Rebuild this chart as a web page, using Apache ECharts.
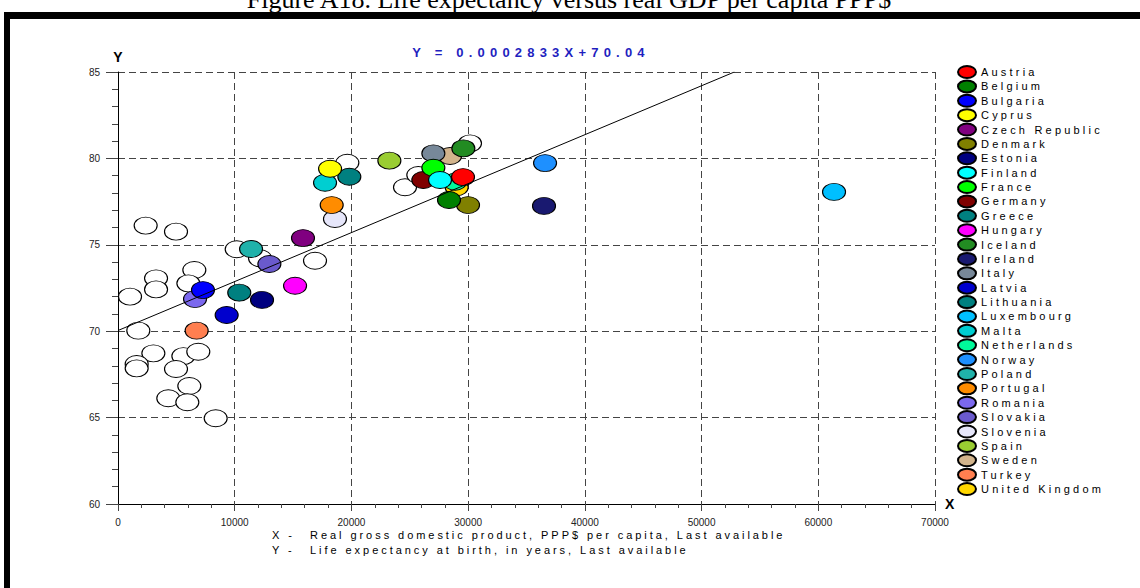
<!DOCTYPE html>
<html>
<head>
<meta charset="utf-8">
<script src="https://cdn.jsdelivr.net/npm/echarts@6/dist/echarts.min.js"></script>
<style>
html,body{margin:0;padding:0;background:#fff;}
#chart{width:1140px;height:588px;}
</style>
</head>
<body>
<div id="chart"></div>
<script>
const countries = ['Austria','Belgium','Bulgaria','Cyprus','Czech Republic','Denmark','Estonia','Finland','France','Germany','Greece','Hungary','Iceland','Ireland','Italy','Latvia','Lithuania','Luxembourg','Malta','Netherlands','Norway','Poland','Portugal','Romania','Slovakia','Slovenia','Spain','Sweden','Turkey','United Kingdom'];
const gdp = [29560,28360,7280,18170,15850,29990,12340,27590,27020,26160,19820,15170,29590,36500,27020,9310,10390,61350,17740,28880,36590,11400,18310,6600,12970,18590,23250,28450,6740,29020];
const life = [78.92,77.59,72.38,79.40,75.39,77.30,71.81,78.75,79.46,78.75,78.94,72.63,80.58,77.25,80.29,70.94,72.23,78.06,78.59,78.65,79.73,74.76,77.30,71.86,73.89,76.49,79.87,80.14,70.03,78.33];
const colors = ['#FF0000','#008000','#0000FF','#FFFF00','#800080','#808000','#000080','#00FFFF','#00FF00','#800000','#008080','#FF00FF','#228B22','#191970','#778899','#0000CD','#008080','#00BFFF','#00CED1','#00FA9A','#1E90FF','#20B2AA','#FF8C00','#7B68EE','#6A5ACD','#E6E6FA','#9ACD32','#D2B48C','#FF7F50','#FFD700'];
const otherGdp = [2370,4970,3260,3260,1030,6540,6030,1740,3030,1600,1600,5600,6880,4970,6110,4310,5940,8370,10170,12170,16880,19650,24590,25730,30160];
const otherLife = [76.11,75.76,73.06,72.42,72.00,73.54,72.77,70.03,68.72,68.10,67.85,68.56,68.81,67.81,66.83,66.12,65.89,64.96,74.74,74.22,74.08,79.75,78.33,79.04,80.87];
const slope = 0.0002833, intercept = 70.04;
const equationText = 'Y = 0.0002833X+70.04';
const titleText = 'Figure A18. Life expectancy versus real GDP per capita PPP$';
const noteX = 'Real gross domestic product, PPP$ per capita, Last available';
const noteY = 'Life expectancy at birth, in years, Last available';
const xMin = 0, xMax = 70000, xStep = 10000;
const yMin = 60, yMax = 85, yStep = 5;

const ELL = 'path://M1,0A1,1,0,1,1,-1,0A1,1,0,1,1,1,0Z';
const ELL_LEG = 'path://M1.5,0A1.5,1,0,1,1,-1.5,0A1.5,1,0,1,1,1.5,0Z';
const chart = echarts.init(document.getElementById('chart'), null, {renderer:'svg'});

const series = [];
series.push({
  type:'scatter', name:'others', symbol:ELL, symbolSize:[23,17],
  data: otherGdp.map((g,i)=>[g, otherLife[i]]),
  itemStyle:{color:'#fff', borderColor:'#000', borderWidth:1, opacity:1},
  silent:true
});
for (let i = countries.length-1; i >= 0; i--) {
  series.push({
    type:'scatter', name:countries[i], symbol:ELL, symbolSize:[23,17],
    data:[[gdp[i], life[i]]],
    itemStyle:{color:colors[i], borderColor:'#000', borderWidth:1, opacity:1},
    silent:true
  });
}
const xEnd = (yMax - intercept)/slope;
series.push({
  type:'line', name:'fit', data:[[0, intercept],[xEnd, yMax]],
  symbol:'none', lineStyle:{color:'#000', width:1}, silent:true, z:5
});

const axisFont = {fontFamily:'Liberation Sans', fontSize:10, color:'#222'};
chart.setOption({
  animation:false,
  backgroundColor:'#fff',
  grid:{left:118, right:205, top:72, bottom:84, containLabel:false},
  xAxis:{
    type:'value', min:xMin, max:xMax, interval:xStep,
    name:'X', nameLocation:'end', nameGap:10,
    nameTextStyle:{fontFamily:'Liberation Sans', fontSize:14, fontWeight:'bold', color:'#000', verticalAlign:'middle'},
    axisLine:{show:true, lineStyle:{color:'#000', width:1}},
    axisTick:{show:true, length:7, lineStyle:{color:'#444'}},
    minorTick:{show:true, splitNumber:5, length:4, lineStyle:{color:'#444'}},
    axisLabel:Object.assign({margin:13, formatter:v=>String(v)}, axisFont),
    splitLine:{show:true, lineStyle:{color:'#444', type:[7,4], width:1}}
  },
  yAxis:{
    type:'value', min:yMin, max:yMax, interval:yStep,
    name:'Y', nameLocation:'end', nameGap:8,
    nameTextStyle:{fontFamily:'Liberation Sans', fontSize:14, fontWeight:'bold', color:'#000', align:'center'},
    axisLine:{show:true, lineStyle:{color:'#000', width:1}},
    axisTick:{show:true, length:12, lineStyle:{color:'#444'}},
    minorTick:{show:true, splitNumber:5, length:6, lineStyle:{color:'#444'}},
    axisLabel:Object.assign({margin:18, formatter:v=>String(v)}, axisFont),
    splitLine:{show:true, lineStyle:{color:'#444', type:[7,4], width:1}}
  },
  legend:{
    data:countries, orient:'vertical', left:957, top:65, padding:0,
    itemWidth:18, itemHeight:12, itemGap:0.38, selectedMode:false,
    icon:ELL_LEG,
    textStyle:{fontFamily:'Liberation Sans', fontSize:11, color:'#000'}
  },
  graphic:[
    {type:'rect', shape:{x:4, y:12, width:1136, height:7}, style:{fill:'#000'}, silent:true},
    {type:'rect', shape:{x:4, y:12, width:6, height:576}, style:{fill:'#000'}, silent:true},
    {type:'text', x:569, y:-1, style:{text:titleText, fontFamily:'Liberation Serif', fontSize:26, fill:'#000', align:'center', verticalAlign:'middle'}, silent:true},
    {type:'text', x:531, y:52, style:{text:equationText, fontFamily:'Liberation Sans', fontSize:13, fontWeight:'bold', fill:'#1f1fbf', align:'center', verticalAlign:'middle'}, silent:true},
    {type:'text', x:272, y:535, style:{text:'X -', fontFamily:'Liberation Sans', fontSize:11, fill:'#000', align:'left', verticalAlign:'middle'}, silent:true},
    {type:'text', x:310, y:535, style:{text:noteX, fontFamily:'Liberation Sans', fontSize:11, fill:'#000', align:'left', verticalAlign:'middle'}, silent:true},
    {type:'text', x:272, y:550, style:{text:'Y -', fontFamily:'Liberation Sans', fontSize:11, fill:'#000', align:'left', verticalAlign:'middle'}, silent:true},
    {type:'text', x:310, y:550, style:{text:noteY, fontFamily:'Liberation Sans', fontSize:11, fill:'#000', align:'left', verticalAlign:'middle'}, silent:true}
  ],
  series:series
});

function applySpacing(){
  document.querySelectorAll('#chart svg text').forEach(t=>{
    const fs = parseFloat(getComputedStyle(t).fontSize);
    const txt = t.textContent;
    let ls = 0;
    if (countries.indexOf(txt) >= 0) ls = 3.2;
    else if (txt === noteX || txt === noteY || txt === 'X -' || txt === 'Y -') ls = 2.95;
    else if (Math.abs(fs-13) < 0.1) ls = 5.2;
    t.setAttribute('letter-spacing', ls);
  });
}
chart.on('finished', applySpacing);
applySpacing();
setTimeout(applySpacing, 50);
</script>
</body>
</html>
